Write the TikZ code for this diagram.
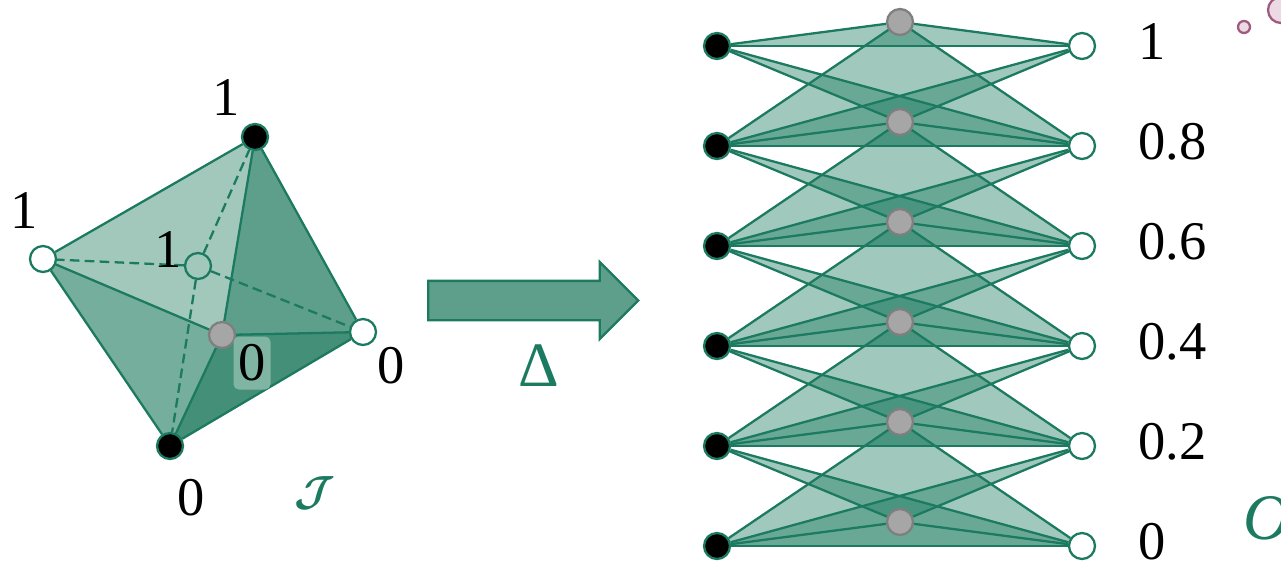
\documentclass[tikz,border=0pt]{standalone}
\usepackage{fix-cm}
\usepackage{amsmath,amssymb}
\usepackage{fontspec}
\newfontfamily\serifx{Liberation Serif}
\usepackage{tikz}
\usetikzlibrary{shapes,shapes.arrows,positioning,calc,backgrounds}
\definecolor{cplxgreen}{HTML}{1B7A5F}
\definecolor{cplxfacea}{HTML}{A2C8BB}
\definecolor{cplxfaceb}{HTML}{5E9F8B}
\definecolor{cplxfacec}{HTML}{75AE9C}
\definecolor{cplxfaced}{HTML}{448F78}
\definecolor{cplxbox}{HTML}{80B5A3}
\definecolor{cplxgray}{HTML}{A6A6A6}
\definecolor{cplxgrayline}{HTML}{7F7F7F}
\definecolor{cplxpink}{HTML}{A05A80}
\definecolor{cplxpinkfill}{HTML}{EBD9E3}

\begin{document}
\begin{tikzpicture}[
    x=0.02cm, y=-0.02cm,
    vertex/.style={circle, draw=cplxgreen, line width=1.3pt, minimum size=0.52cm, inner sep=0pt},
    blackv/.style={vertex, fill=black},
    whitev/.style={vertex, fill=white},
    grayv/.style={vertex, draw=cplxgrayline, fill=cplxgray},
    backv/.style={vertex, fill=cplxfacea},
    simplex/.style={fill=cplxgreen, fill opacity=0.41},
    edge/.style={draw=cplxgreen, line width=1.3pt},
    hidden/.style={edge, dash pattern=on 5.5pt off 3pt},
    value/.style={font=\fontsize{31}{36}\serifx, text=black, inner sep=0pt},
    script/.style={font=\fontsize{24}{28}\selectfont, text=cplxgreen, inner sep=0pt},
    bigarrow/.style={single arrow, draw=cplxgreen, line width=1.3pt, fill=cplxfaceb, minimum height=4.2cm,
        minimum width=1.5cm, inner xsep=0pt, inner ysep=0.37cm, single arrow head extend=0.38cm,
        single arrow tip angle=90, single arrow head indent=0pt},
    blob/.style={circle, draw=cplxpink, line width=1.3pt, fill=cplxpinkfill, inner sep=0pt}
]
    \path[clip, use as bounding box] (0,0) rectangle (1281,562);

    % Input complex
    \node[blackv] (top) at (255,137) {};
    \node[whitev] (west) at (43,259) {};
    \node[grayv] (front) at (222,335) {};
    \node[whitev] (east) at (363,332) {};
    \node[blackv] (bottom) at (170,446) {};
    \node[value] (backlabel) at (168,250) {1};
    \node[backv] (back) at (198,266) {};

    \begin{scope}[on background layer]
        \fill[cplxfacea] (top.center) -- (west.center) -- (front.center) -- cycle;
        \fill[cplxfaceb] (top.center) -- (front.center) -- (east.center) -- cycle;
        \fill[cplxfacec] (west.center) -- (front.center) -- (bottom.center) -- cycle;
        \fill[cplxfaced] (front.center) -- (east.center) -- (bottom.center) -- cycle;
        \foreach \a/\b in {top/west, top/east, top/front, west/front, west/bottom, front/east, front/bottom, east/bottom}
            \draw[edge] (\a) -- (\b);
        \foreach \a in {top, west, east, bottom}
            \draw[hidden] (back) -- (\a);
    \end{scope}

    % Labels of the input complex
    \node[value] (toplabel) at (226,98) {1};
    \node[value] (westlabel) at (24,211) {1};
    \node[value, fill=cplxbox, rounded corners=3pt, minimum width=0.74cm, minimum height=1.06cm] (frontlabel) at (252,363) {0};
    \node[value] (eastlabel) at (391,366) {0};
    \node[value] (bottomlabel) at (191,498) {0};
    \node[script] (inname) at (315,493) {$\boldsymbol{\mathcal{J}}$};

    % Map
    \node[bigarrow] (map) at (523.5,300.5) {};
    \node[inner sep=0pt, text=cplxgreen, font=\fontsize{36}{40}\serifx] (mapname) at (539,366) {Δ};

    % Output complex, rows from top to bottom
    \foreach \n/\lab [evaluate=\n as \yy using int(46+100*\n), evaluate=\n as \ym using int(22+100*\n), evaluate=\n as \yv using int(42+100*\n)]
        in {0/1, 1/0.8, 2/0.6, 3/0.4, 4/0.2, 5/0} {
        \node[blackv] (L\n) at (717,\yy) {};
        \node[whitev] (R\n) at (1082,\yy) {};
        \node[grayv] (M\n) at (900,\ym) {};
        \node[value, anchor=west] (V\n) at (1138,\yv) {\lab};
    }

    \begin{scope}[on background layer]
        \foreach \n in {0,...,5}
            \fill[simplex] (L\n.center) -- (M\n.center) -- (R\n.center) -- cycle;
        \foreach \n [evaluate=\n as \m using int(\n+1)] in {0,...,4} {
            \fill[simplex] (M\n.center) -- (L\m.center) -- (R\m.center) -- cycle;
            \fill[simplex] (L\n.center) -- (M\m.center) -- (R\m.center) -- cycle;
            \fill[simplex] (R\n.center) -- (M\m.center) -- (L\m.center) -- cycle;
        }
        \foreach \n in {0,...,5} {
            \draw[edge] (L\n) -- (R\n);
            \draw[edge] (L\n) -- (M\n);
            \draw[edge] (R\n) -- (M\n);
        }
        \foreach \n [evaluate=\n as \m using int(\n+1)] in {0,...,4} {
            \draw[edge] (M\n) -- (L\m);
            \draw[edge] (M\n) -- (R\m);
            \draw[edge] (L\n) -- (M\m);
            \draw[edge] (L\n) -- (R\m);
            \draw[edge] (R\n) -- (M\m);
            \draw[edge] (R\n) -- (L\m);
        }
    \end{scope}

    % Corner of the next part
    \node[inner sep=0pt, text=cplxgreen, anchor=west, font=\fontsize{37}{40}\serifx\itshape] (outname) at (1243,518) {O};
    \node[blob, minimum size=0.24cm] (blobsmall) at (1244,27) {};
    \node[blob, minimum size=0.52cm] (blobbig) at (1281,10) {};
\end{tikzpicture}
\end{document}
